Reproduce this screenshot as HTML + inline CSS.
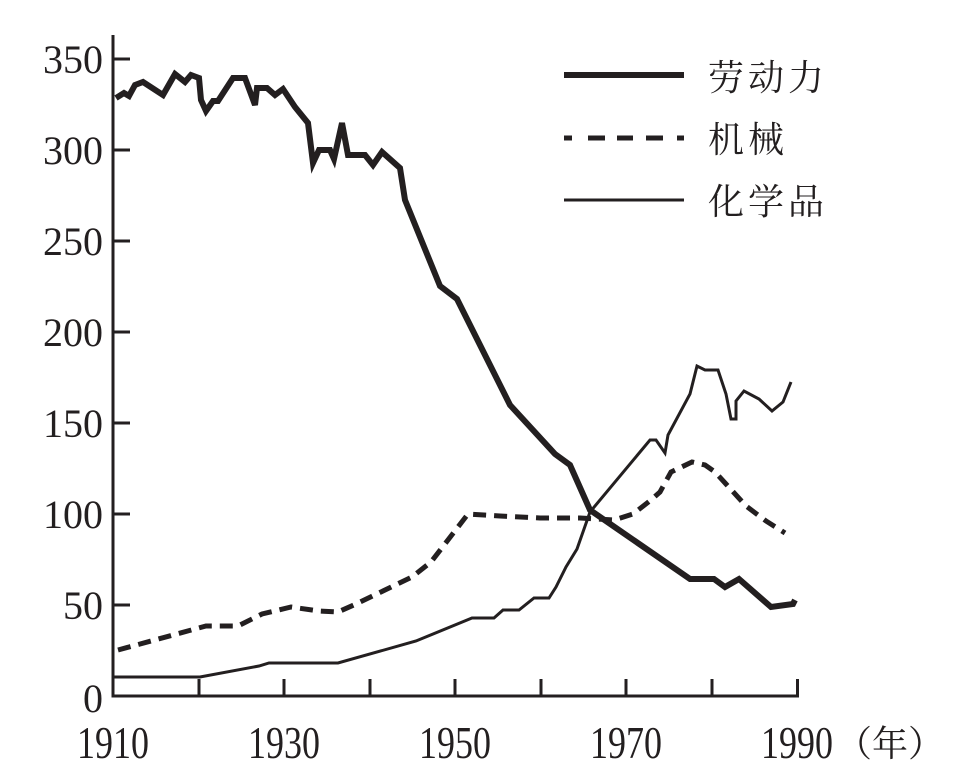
<!DOCTYPE html>
<html><head><meta charset="utf-8"><style>body{margin:0;background:#fff}</style></head><body>
<svg width="970" height="780" viewBox="0 0 970 780" xmlns="http://www.w3.org/2000/svg" style="display:block">
<g stroke="#231f20" stroke-width="3" fill="none">
<line x1="113" y1="35" x2="113" y2="697"/>
<line x1="111.5" y1="696" x2="799" y2="696"/>
<line x1="113" y1="59" x2="130" y2="59"/><line x1="113" y1="150" x2="130" y2="150"/>
<line x1="113" y1="241" x2="130" y2="241"/><line x1="113" y1="332" x2="130" y2="332"/>
<line x1="113" y1="423" x2="130" y2="423"/><line x1="113" y1="514" x2="130" y2="514"/>
<line x1="113" y1="605" x2="130" y2="605"/>
<line x1="199" y1="696" x2="199" y2="679"/><line x1="284" y1="696" x2="284" y2="679"/>
<line x1="370" y1="696" x2="370" y2="679"/><line x1="455" y1="696" x2="455" y2="679"/>
<line x1="541" y1="696" x2="541" y2="679"/><line x1="626" y1="696" x2="626" y2="679"/>
<line x1="712" y1="696" x2="712" y2="679"/><line x1="797.5" y1="696" x2="797.5" y2="679"/>
</g>
<g font-family="Liberation Serif, serif" font-size="40" fill="#231f20" text-anchor="end">
<text x="103" y="73">350</text><text x="103" y="164">300</text><text x="103" y="255">250</text>
<text x="103" y="346">200</text><text x="103" y="437">150</text><text x="103" y="528">100</text>
<text x="103" y="619">50</text><text x="103" y="712">0</text>
</g>
<g font-family="Liberation Serif, serif" font-size="40" fill="#231f20" text-anchor="middle">
<text transform="translate(113,758) scale(0.9,1.15)">1910</text>
<text transform="translate(284,758) scale(0.9,1.15)">1930</text>
<text transform="translate(455,758) scale(0.9,1.15)">1950</text>
<text transform="translate(626,758) scale(0.9,1.15)">1970</text>
<text transform="translate(797,758) scale(0.9,1.15)">1990</text>
</g>
<text x="836" y="756" font-family="Liberation Serif, 'Noto Serif CJK SC', serif" font-size="36" fill="#231f20">（年）</text>
<g stroke="#231f20" fill="none" stroke-linejoin="miter">
<polyline stroke-width="6" points="116,98 124,93 129,96 135,85 143,82 163,95 175,74 185,82 191,75 199,78 201,100 206,111 213,101 218,101 233,78 245,78 255,105 257,88 267,88 275,95 283,89 295,107 308,123 313,163 319,150 330,150 334,159 342,123 348,155 365,155 373,165 382,152 400,168 405,200 440,286 457,299 480,345 510,405 555,454 570,465 590,510 690,579 714,579 725,587 739,579 771,607 793,604 795,600"/>
<polyline stroke-width="5" stroke-dasharray="13,8" points="118,650 206,626 238,626 262,614 291,607 319,611 338,612 356,604 412,577 431,562 468,514 500,516 540,518 580,518 614,520 633,514 651,500 660,492 671,472 692,462 705,465 715,472 726,484 746,506 766,521 785,533"/>
<polyline stroke-width="3" points="113,677 200,677 259,666 269,663 338,663 416,641 472,618 494,618 503,610 519,610 534,598 549,598 556,587 566,567 577,549 590,512 650,440 656,440 665,453 668,435 690,394 697,366 705,370 718,370 726,394 731,419 736,419 736,401 744,391 759,399 772,411 783,402 791,382"/>
<line x1="564" y1="75" x2="684" y2="75" stroke-width="6"/>
<line x1="564" y1="138" x2="684" y2="138" stroke-width="5" stroke-dasharray="8,16,17,12,16,13,17,14,8"/>
<line x1="564" y1="200" x2="684" y2="200" stroke-width="3"/>
</g>
<g font-family="Liberation Serif, 'Noto Serif CJK SC', serif" font-size="36" fill="#231f20" letter-spacing="4">
<text x="708" y="90">劳动力</text><text x="708" y="152">机械</text><text x="708" y="214">化学品</text>
</g>
</svg>
</body></html>
